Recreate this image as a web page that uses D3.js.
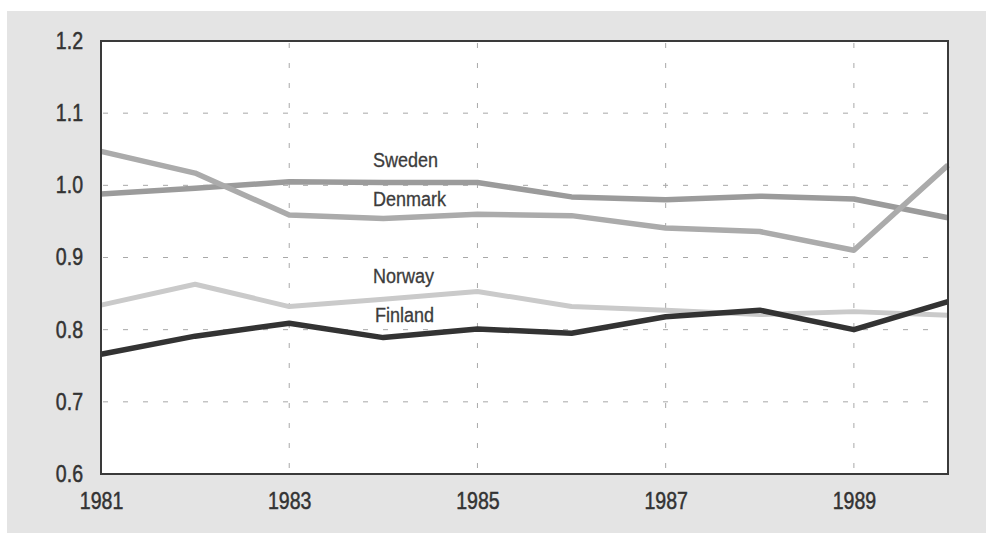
<!DOCTYPE html>
<html>
<head>
<meta charset="utf-8">
<script src="https://cdn.jsdelivr.net/npm/d3@7"></script>
<style>
  html, body { margin: 0; padding: 0; background: #ffffff; }
  svg { display: block; }
  text { font-family: "Liberation Sans", Arial, sans-serif; }
</style>
</head>
<body>
<svg id="chart" width="986" height="533"></svg>
<script>
// Years on the horizontal axis
const years = [1981, 1982, 1983, 1984, 1985, 1986, 1987, 1988, 1989, 1990];

// Series values by country
const sweden  = [0.988, 0.996, 1.005, 1.004, 1.004, 0.984, 0.980, 0.985, 0.981, 0.955];
const denmark = [1.047, 1.017, 0.959, 0.954, 0.960, 0.958, 0.941, 0.936, 0.910, 1.028];
const norway  = [0.834, 0.863, 0.832, 0.842, 0.853, 0.832, 0.827, 0.821, 0.825, 0.820];
const finland = [0.766, 0.791, 0.809, 0.789, 0.801, 0.795, 0.818, 0.827, 0.800, 0.839];

// Axis ticks
const xTicks = [1981, 1983, 1985, 1987, 1989];
const yTicks = [0.6, 0.7, 0.8, 0.9, 1.0, 1.1, 1.2];

const series = [
  { name: "Sweden",  values: sweden,  color: "#9b9b9b", width: 5.5, label: [373, 167] },
  { name: "Denmark", values: denmark, color: "#ababab", width: 5.5, label: [373, 206] },
  { name: "Norway",  values: norway,  color: "#cacaca", width: 5,   label: [373, 283] },
  { name: "Finland", values: finland, color: "#333333", width: 5.5, label: [375, 322] }
];

// Squeeze text horizontally to a condensed face
function condense(sel, factor) {
  sel.each(function () {
    const w = this.getComputedTextLength();
    d3.select(this)
      .attr("textLength", w * factor)
      .attr("lengthAdjust", "spacingAndGlyphs");
  });
}

const svg = d3.select("#chart");

// Grey page panel
svg.append("rect")
  .attr("x", 7).attr("y", 11)
  .attr("width", 979).attr("height", 522)
  .attr("fill", "#e4e4e4");

const x = d3.scaleLinear().domain([1981, 1990]).range([101, 948]);
const y = d3.scaleLinear().domain([0.6, 1.2]).range([474, 41]);

// White plot area
svg.append("rect")
  .attr("x", x(1981)).attr("y", y(1.2))
  .attr("width", x(1990) - x(1981)).attr("height", y(0.6) - y(1.2))
  .attr("fill", "#ffffff");

// Dashed grid
const grid = svg.append("g")
  .attr("stroke", "#a8a8a8")
  .attr("stroke-width", 1)
  .attr("stroke-dasharray", "5,15");

grid.selectAll("line.h")
  .data(yTicks.filter(v => v > 0.6 && v < 1.2))
  .join("line")
  .attr("class", "h")
  .attr("x1", x(1981) + 2).attr("x2", 935)
  .attr("y1", d => y(d)).attr("y2", d => y(d));

grid.selectAll("line.v")
  .data(xTicks.filter(v => v > 1981))
  .join("line")
  .attr("class", "v")
  .attr("x1", d => x(d)).attr("x2", d => x(d))
  .attr("y1", y(1.2) + 2).attr("y2", y(0.6));

// Series lines
const line = d3.line()
  .x((d, i) => x(years[i]))
  .y(d => y(d));

svg.append("g")
  .selectAll("path")
  .data(series)
  .join("path")
  .attr("fill", "none")
  .attr("stroke", d => d.color)
  .attr("stroke-width", d => d.width)
  .attr("stroke-linejoin", "round")
  .attr("d", d => line(d.values));

// Frame
svg.append("rect")
  .attr("x", x(1981)).attr("y", y(1.2))
  .attr("width", x(1990) - x(1981)).attr("height", y(0.6) - y(1.2))
  .attr("fill", "none")
  .attr("stroke", "#3a3a3a")
  .attr("stroke-width", 2);

// Axes (labels only; the frame draws the axis lines)
const yAxis = d3.axisLeft(y).tickValues(yTicks).tickFormat(d3.format(".1f")).tickSize(0).tickPadding(18);
svg.append("g")
  .attr("transform", `translate(${x(1981)},0)`)
  .call(yAxis)
  .call(g => g.select(".domain").remove())
  .selectAll("text")
  .attr("font-size", 23)
  .attr("fill", "#333333")
  .attr("stroke", "#333333")
  .attr("stroke-width", 0.5)
  .call(condense, 0.85);

const xAxis = d3.axisBottom(x).tickValues(xTicks).tickFormat(d3.format("d")).tickSize(0).tickPadding(19);
svg.append("g")
  .attr("transform", `translate(0,${y(0.6)})`)
  .call(xAxis)
  .call(g => g.select(".domain").remove())
  .selectAll("text")
  .attr("font-size", 23)
  .attr("fill", "#333333")
  .attr("stroke", "#333333")
  .attr("stroke-width", 0.5)
  .call(condense, 0.85);

// Series labels
svg.append("g")
  .selectAll("text")
  .data(series)
  .join("text")
  .attr("x", d => d.label[0])
  .attr("y", d => d.label[1])
  .attr("font-size", 20)
  .attr("fill", "#3c3c3c")
  .attr("stroke", "#3c3c3c")
  .attr("stroke-width", 0.3)
  .text(d => d.name)
  .call(condense, 0.9);
</script>
</body>
</html>
